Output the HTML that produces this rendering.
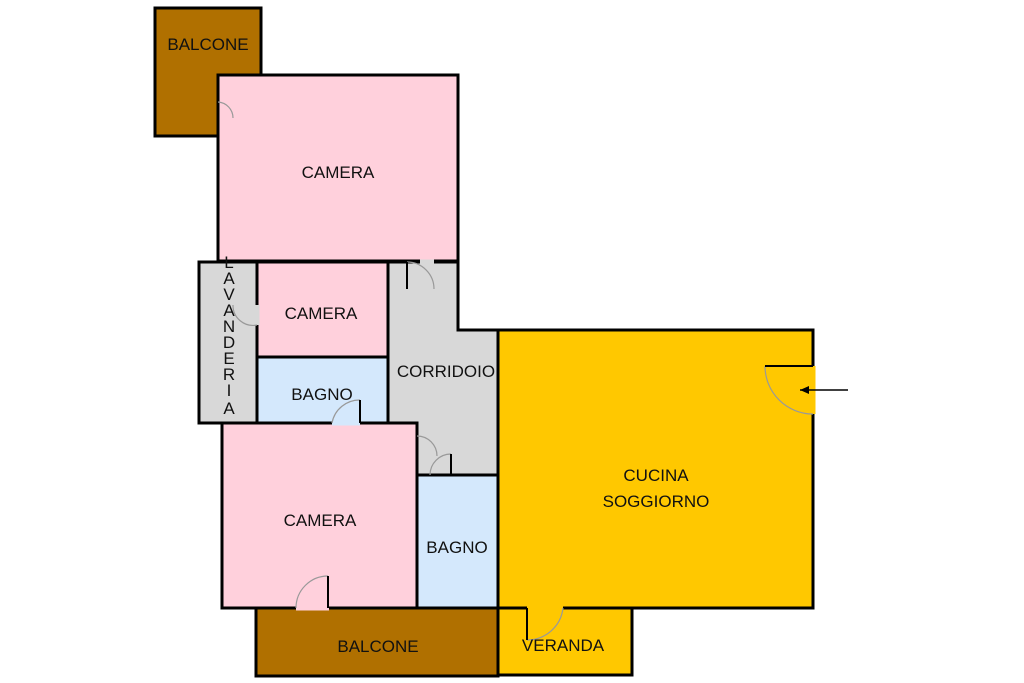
<!DOCTYPE html>
<html><head><meta charset="utf-8"><style>
html,body{margin:0;padding:0;background:#fff;}
svg{display:block;}
text{font-family:"Liberation Sans",sans-serif;font-size:17px;fill:#111;text-anchor:middle;}
</style></head><body>
<svg width="1024" height="683" viewBox="0 0 1024 683">
<g stroke="#000" stroke-width="3">
<rect x="155" y="8" width="106" height="128" fill="#b07000"/>
<rect x="218" y="75" width="240" height="186" fill="#ffd0dc"/>
<rect x="199" y="262" width="58" height="161" fill="#d8d8d8"/>
<polygon points="388,262 458,262 458,330 498,330 498,475 417,475 417,423 388,423" fill="#d8d8d8"/>
<rect x="257" y="262" width="131" height="95" fill="#ffd0dc"/>
<rect x="257" y="357" width="131" height="66" fill="#d4e8fc"/>
<rect x="222" y="423" width="195" height="185" fill="#ffd0dc"/>
<rect x="417" y="475" width="81" height="133" fill="#d4e8fc"/>
<rect x="498" y="330" width="315" height="278" fill="#ffc800"/>
<rect x="256" y="608" width="242" height="68" fill="#b07000"/>
<rect x="498" y="608" width="134" height="67" fill="#ffc800"/>
</g>
<g stroke-width="5">
<line x1="296" y1="608" x2="329" y2="608" stroke="#ffd0dc"/>
<line x1="332" y1="423" x2="360" y2="423" stroke="#d4e8fc"/>
<line x1="257" y1="305" x2="257" y2="325" stroke="#d8d8d8"/>
<line x1="813" y1="366" x2="813" y2="414" stroke="#ffc800"/>
<line x1="527" y1="608" x2="563" y2="608" stroke="#ffc800"/>
<line x1="420" y1="262" x2="434" y2="262" stroke="#d8d8d8"/>
</g>
<g fill="none" stroke="#999" stroke-width="1.2">
<path d="M296,608 A32,32 0 0 1 328,576"/><line x1="328" y1="576" x2="328" y2="608" stroke="#000" stroke-width="2"/>
<path d="M332,423 A28,28 0 0 1 360,400"/><line x1="360" y1="400" x2="360" y2="423" stroke="#000" stroke-width="2"/>
<path d="M765,366 A48,48 0 0 0 813,414"/><line x1="765" y1="366" x2="813" y2="366" stroke="#000" stroke-width="2"/>
<path d="M563,608 A36,36 0 0 1 527,640"/><line x1="527" y1="608" x2="527" y2="640" stroke="#000" stroke-width="2"/>
<path d="M407,262 A27,27 0 0 1 434,289"/><line x1="407" y1="262" x2="407" y2="289" stroke="#000" stroke-width="2"/>
<path d="M417,436 A20,20 0 0 1 437,456"/>
<path d="M430,475 A21,21 0 0 1 451,454"/><line x1="451" y1="454" x2="451" y2="475" stroke="#000" stroke-width="2"/>
<path d="M218,102 A16,16 0 0 1 233,118"/>
<path d="M233,305 A20,20 0 0 0 257,325"/>
</g>
<line x1="800" y1="390" x2="848" y2="390" stroke="#000" stroke-width="1.5"/>
<polygon points="800,390 809,386 809,394" fill="#000"/>
<text x="208" y="50">BALCONE</text>
<text x="338" y="178">CAMERA</text>
<text x="321" y="319">CAMERA</text>
<text x="322" y="400">BAGNO</text>
<text x="446" y="377">CORRIDOIO</text>
<text x="320" y="526">CAMERA</text>
<text x="457" y="553">BAGNO</text>
<text x="656" y="481">CUCINA</text>
<text x="656" y="507">SOGGIORNO</text>
<text x="378" y="652">BALCONE</text>
<text x="563" y="651">VERANDA</text>
<g style="font-size:15px">
<text x="229" y="268">L</text><text x="229" y="284">A</text><text x="229" y="300">V</text><text x="229" y="316">A</text><text x="229" y="332">N</text><text x="229" y="348">D</text><text x="229" y="364">E</text><text x="229" y="380">R</text><text x="229" y="396">I</text><text x="229" y="414">A</text>
</g>
</svg>
</body></html>
